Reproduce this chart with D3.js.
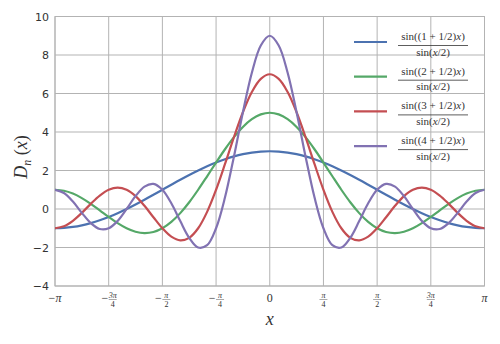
<!DOCTYPE html>
<html>
<head>
<meta charset="utf-8">
<script src="https://cdn.jsdelivr.net/npm/d3@7"></script>
<style>
  html, body { margin: 0; padding: 0; background: #fff; }
  svg { display: block; }
</style>
</head>
<body>
<svg id="chart" width="500" height="344"></svg>
<script>
// Sample positions, in multiples of pi, from -pi to pi in steps of pi/24
const xFrac = [
  -24, -23, -22, -21, -20, -19, -18, -17, -16, -15, -14, -13, -12,
  -11, -10, -9, -8, -7, -6, -5, -4, -3, -2, -1, 0,
  1, 2, 3, 4, 5, 6, 7, 8, 9, 10, 11, 12,
  13, 14, 15, 16, 17, 18, 19, 20, 21, 22, 23, 24
].map(k => k / 24);

// Dirichlet kernel values D_1 .. D_4 at those positions
const d1 = [
  -1, -0.983, -0.932, -0.848, -0.732, -0.587, -0.414, -0.218, 0, 0.235, 0.482, 0.739, 1,
  1.261, 1.518, 1.765, 2, 2.218, 2.414, 2.587, 2.732, 2.848, 2.932, 2.983, 3,
  2.983, 2.932, 2.848, 2.732, 2.587, 2.414, 2.218, 2, 1.765, 1.518, 1.261, 1,
  0.739, 0.482, 0.235, 0, -0.218, -0.414, -0.587, -0.732, -0.848, -0.932, -0.983, -1
];
const d2 = [
  1, 0.949, 0.800, 0.566, 0.268, -0.069, -0.414, -0.735, -1, -1.180, -1.250, -1.193, -1,
  -0.671, -0.214, 0.351, 1, 1.700, 2.414, 3.104, 3.732, 4.262, 4.664, 4.915, 5,
  4.915, 4.664, 4.262, 3.732, 3.104, 2.414, 1.700, 1, 0.351, -0.214, -0.671, -1,
  -1.193, -1.250, -1.180, -1, -0.735, -0.414, -0.069, 0.268, 0.566, 0.800, 0.949, 1
];
const d3v = [
  -1, -0.899, -0.614, -0.199, 0.268, 0.696, 1, 1.113, 1, 0.668, 0.165, -0.428, -1,
  -1.436, -1.629, -1.497, -1, -0.148, 1, 2.339, 3.732, 5.027, 6.078, 6.763, 7,
  6.763, 6.078, 5.027, 3.732, 2.339, 1, -0.148, -1, -1.497, -1.629, -1.436, -1,
  -0.428, 0.165, 0.668, 1, 1.113, 1, 0.696, 0.268, -0.199, -0.614, -0.899, -1
];
const d4 = [
  1, 0.833, 0.386, -0.199, -0.732, -1.036, -1, -0.619, 0, 0.668, 1.165, 1.305, 1,
  0.296, -0.629, -1.497, -2, -1.880, -1, 0.607, 2.732, 5.027, 7.078, 8.495, 9,
  8.495, 7.078, 5.027, 2.732, 0.607, -1, -1.880, -2, -1.497, -0.629, 0.296, 1,
  1.305, 1.165, 0.668, 0, -0.619, -1, -1.036, -0.732, -0.199, 0.386, 0.833, 1
];

const seriesN = [1, 2, 3, 4];
const seriesValues = [d1, d2, d3v, d4];
const seriesColors = ["#4c72b0", "#55a868", "#c44e52", "#8172b2"];

// Axis ticks
const xTickFrac = [-1, -0.75, -0.5, -0.25, 0, 0.25, 0.5, 0.75, 1];
const xTickLabels = [
  { sign: "−", num: "π", den: null },
  { sign: "−", num: "3π", den: "4" },
  { sign: "−", num: "π", den: "2" },
  { sign: "−", num: "π", den: "4" },
  { sign: "", num: "0", den: null },
  { sign: "", num: "π", den: "4" },
  { sign: "", num: "π", den: "2" },
  { sign: "", num: "3π", den: "4" },
  { sign: "", num: "π", den: null }
];
const yTicks = [-4, -2, 0, 2, 4, 6, 8, 10];

const svg = d3.select("#chart");
const plot = { left: 55, right: 484.5, top: 16.5, bottom: 286 };

const x = d3.scaleLinear().domain([-Math.PI, Math.PI]).range([plot.left, plot.right]);
const y = d3.scaleLinear().domain([-4, 10]).range([plot.bottom, plot.top]);

const serif = "'Liberation Serif', 'DejaVu Serif', serif";
const sans = "'DejaVu Sans', 'Liberation Sans', sans-serif";
const gridColor = "#b3b3b3";
const textColor = "#333";

// Grid lines
const grid = svg.append("g");
grid.selectAll("line.gx").data(xTickFrac).join("line")
  .attr("x1", d => x(d * Math.PI)).attr("x2", d => x(d * Math.PI))
  .attr("y1", plot.top).attr("y2", plot.bottom)
  .attr("stroke", gridColor).attr("stroke-width", 1);
grid.selectAll("line.gy").data(yTicks).join("line")
  .attr("x1", plot.left).attr("x2", plot.right)
  .attr("y1", d => y(d)).attr("y2", d => y(d))
  .attr("stroke", gridColor).attr("stroke-width", 1);

// Y axis labels
const yAxis = d3.axisLeft(y).tickValues(yTicks).tickSize(0).tickPadding(6)
  .tickFormat(d => d < 0 ? "−" + Math.abs(d) : String(d));
svg.append("g").attr("transform", `translate(${plot.left},0)`).call(yAxis)
  .call(g => g.select(".domain").remove())
  .call(g => g.selectAll("text").attr("font-family", sans).attr("font-size", 11).attr("fill", textColor));

// X axis labels, fractions of pi stacked
const xAxis = d3.axisBottom(x).tickValues(xTickFrac.map(d => d * Math.PI)).tickSize(0).tickFormat("");
svg.append("g").attr("transform", `translate(0,${plot.bottom})`).call(xAxis)
  .call(g => g.select(".domain").remove());

const xl = svg.append("g").attr("font-family", serif).attr("fill", textColor);
xTickLabels.forEach((lab, i) => {
  const cx = x(xTickFrac[i] * Math.PI);
  const g = xl.append("g").attr("transform", `translate(${cx},0)`);
  if (lab.den === null) {
    const t = g.append("text").attr("x", 0).attr("y", 302).attr("text-anchor", "middle")
      .attr("font-size", 12);
    t.append("tspan").text(lab.sign);
    t.append("tspan").attr("font-style", lab.num === "π" ? "italic" : null).text(lab.num);
  } else {
    const fx = lab.sign ? 4 : 0;
    if (lab.sign) {
      g.append("text").attr("x", fx - 4.5).attr("y", 302).attr("text-anchor", "end")
        .attr("font-size", 12).text(lab.sign);
    }
    g.append("text").attr("x", fx).attr("y", 297.5).attr("text-anchor", "middle")
      .attr("font-size", 8).attr("font-style", "italic").text(lab.num);
    g.append("line").attr("x1", fx - 4).attr("x2", fx + 4).attr("y1", 299.5).attr("y2", 299.5)
      .attr("stroke", "#555").attr("stroke-width", 0.5);
    g.append("text").attr("x", fx).attr("y", 306.5).attr("text-anchor", "middle")
      .attr("font-size", 8).text(lab.den);
  }
});

// Frame
svg.append("rect")
  .attr("x", plot.left).attr("y", plot.top)
  .attr("width", plot.right - plot.left).attr("height", plot.bottom - plot.top)
  .attr("fill", "none").attr("stroke", gridColor).attr("stroke-width", 1);

// Curves
const line = d3.line()
  .x(d => x(d[0] * Math.PI))
  .y(d => y(d[1]))
  .curve(d3.curveCatmullRom.alpha(0.5));

const defs = svg.append("defs");
defs.append("clipPath").attr("id", "clip").append("rect")
  .attr("x", plot.left).attr("y", plot.top)
  .attr("width", plot.right - plot.left).attr("height", plot.bottom - plot.top);

svg.append("g").attr("clip-path", "url(#clip)")
  .selectAll("path").data(seriesValues).join("path")
  .attr("d", vals => line(xFrac.map((f, i) => [f, vals[i]])))
  .attr("fill", "none")
  .attr("stroke", (d, i) => seriesColors[i])
  .attr("stroke-width", 2.2)
  .attr("stroke-linejoin", "round")
  .attr("stroke-linecap", "round");

// Axis titles
const yt = svg.append("text")
  .attr("transform", "translate(27,157) rotate(-90)")
  .attr("text-anchor", "middle")
  .attr("font-family", serif).attr("font-size", 18).attr("fill", textColor);
yt.append("tspan").attr("font-style", "italic").text("D");
yt.append("tspan").attr("font-style", "italic").attr("font-size", 12).attr("dy", 4).text("n");
yt.append("tspan").attr("dy", -4).text(" (");
yt.append("tspan").attr("font-style", "italic").text("x");
yt.append("tspan").text(")");

svg.append("text").attr("x", x(0)).attr("y", 325).attr("text-anchor", "middle")
  .attr("font-family", serif).attr("font-style", "italic").attr("font-size", 18)
  .attr("fill", textColor).text("x");

// Legend
const legend = svg.append("g").attr("font-family", serif).attr("fill", textColor);
seriesN.forEach((n, i) => {
  const ly = 42 + i * 34.7;
  legend.append("line").attr("x1", 354).attr("x2", 387).attr("y1", ly).attr("y2", ly)
    .attr("stroke", seriesColors[i]).attr("stroke-width", 2.2);
  const cx = 433;
  const num = legend.append("text").attr("x", cx).attr("y", ly - 2).attr("text-anchor", "middle")
    .attr("font-size", 11);
  num.append("tspan").text(`sin((${n} + 1/2)`);
  num.append("tspan").attr("font-style", "italic").text("x");
  num.append("tspan").text(")");
  legend.append("line").attr("x1", 398).attr("x2", 468).attr("y1", ly + 3.5).attr("y2", ly + 3.5)
    .attr("stroke", textColor).attr("stroke-width", 0.8);
  const den = legend.append("text").attr("x", cx).attr("y", ly + 13.5).attr("text-anchor", "middle")
    .attr("font-size", 11);
  den.append("tspan").text("sin(");
  den.append("tspan").attr("font-style", "italic").text("x");
  den.append("tspan").text("/2)");
});
</script>
</body>
</html>
